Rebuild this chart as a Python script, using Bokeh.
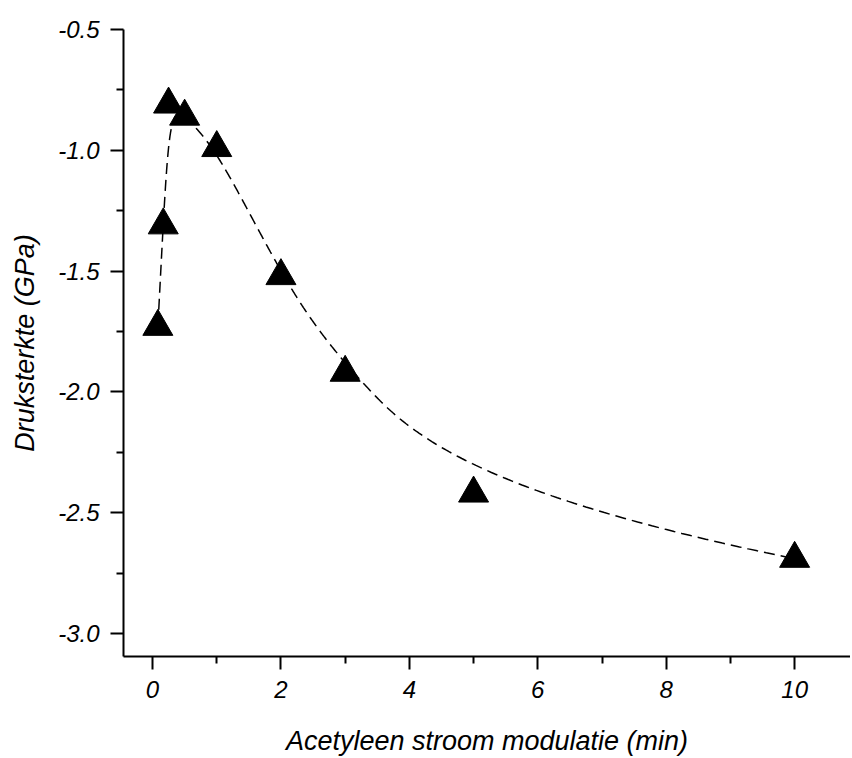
import numpy as np
from bokeh.plotting import figure
from bokeh.models import Range1d, FixedTicker
from bokeh.embed import file_html
from bokeh.resources import INLINE

# data (time in min, compressive stress in GPa)
modulation_min = [0.083, 0.167, 0.25, 0.5, 1.0, 2.0, 3.0, 5.0, 10.0]
stress_gpa = [-1.73, -1.31, -0.81, -0.86, -0.99, -1.52, -1.92, -2.42, -2.69]

x_ticks = [0, 2, 4, 6, 8, 10]
x_minor = [1, 3, 5, 7, 9]
x_tick_labels = ["0", "2", "4", "6", "8", "10"]
y_ticks = [-3.0, -2.5, -2.0, -1.5, -1.0, -0.5]
y_minor = [-2.75, -2.25, -1.75, -1.25, -0.75]
y_tick_labels = ["-3.0", "-2.5", "-2.0", "-1.5", "-1.0", "-0.5"]


def bspline(cx, cy, n=600, k=3):
    """Clamped uniform B-spline using the data points as control points."""
    cx = np.asarray(cx, float)
    cy = np.asarray(cy, float)
    m = len(cx)
    knots = np.concatenate([np.zeros(k), np.arange(0, m - k + 1), np.full(k, m - k)]).astype(float)
    ts = np.linspace(0, m - k, n)
    out_x, out_y = [], []
    for t in ts:
        if t >= knots[m]:
            s = m - 1
        else:
            s = int(np.searchsorted(knots, t, side="right") - 1)
        d = [np.array([cx[j], cy[j]]) for j in range(s - k, s + 1)]
        for r in range(1, k + 1):
            for j in range(k, r - 1, -1):
                i = j + s - k
                denom = knots[i + k + 1 - r] - knots[i]
                a = 0.0 if denom == 0 else (t - knots[i]) / denom
                d[j] = (1 - a) * d[j - 1] + a * d[j]
        out_x.append(d[k][0])
        out_y.append(d[k][1])
    return out_x, out_y


sx, sy = bspline(modulation_min, stress_gpa)

FONT = "Liberation Sans"

p = figure(width=850, height=758, output_backend="svg", toolbar_location=None,
           x_range=Range1d(-0.452, 10.87), y_range=Range1d(-3.095, -0.5),
           min_border_left=123, min_border_right=0, min_border_top=29, min_border_bottom=102)
p.outline_line_color = None
p.xgrid.visible = False
p.ygrid.visible = False
p.background_fill_color = "white"
p.border_fill_color = "white"

p.line(sx, sy, line_color="black", line_width=1.5, line_dash="11 6")
p.scatter(modulation_min, stress_gpa, marker="triangle", size=30,
          fill_color="black", line_color="black")

for ax in (p.xaxis[0], p.yaxis[0]):
    ax.axis_line_width = 2
    ax.axis_line_color = "black"
    ax.major_tick_line_width = 2
    ax.minor_tick_line_width = 2
    ax.major_tick_line_color = "black"
    ax.minor_tick_line_color = "black"
    ax.major_tick_out = 13
    ax.major_tick_in = 0
    ax.minor_tick_out = 7
    ax.minor_tick_in = 0
    ax.major_label_text_font = FONT
    ax.major_label_text_font_style = "italic"
    ax.major_label_text_font_size = "24px"
    ax.major_label_text_color = "black"
    ax.axis_label_text_font = FONT
    ax.axis_label_text_font_style = "italic"
    ax.axis_label_text_font_size = "27px"
    ax.axis_label_text_color = "black"

p.xaxis[0].ticker = FixedTicker(ticks=x_ticks, minor_ticks=x_minor)
p.xaxis[0].major_label_overrides = {float(v): s for v, s in zip(x_ticks, x_tick_labels)}
p.xaxis[0].axis_label = "Acetyleen stroom modulatie (min)"
p.xaxis[0].major_label_standoff = 11
p.xaxis[0].axis_label_standoff = 25

p.yaxis[0].ticker = FixedTicker(ticks=y_ticks, minor_ticks=y_minor)
p.yaxis[0].major_label_overrides = {float(v): s for v, s in zip(y_ticks, y_tick_labels)}
p.yaxis[0].axis_label = "Druksterkte (GPa)"
p.yaxis[0].major_label_standoff = 11
p.yaxis[0].axis_label_standoff = 15

open("out.html", "w").write(file_html(p, INLINE))
